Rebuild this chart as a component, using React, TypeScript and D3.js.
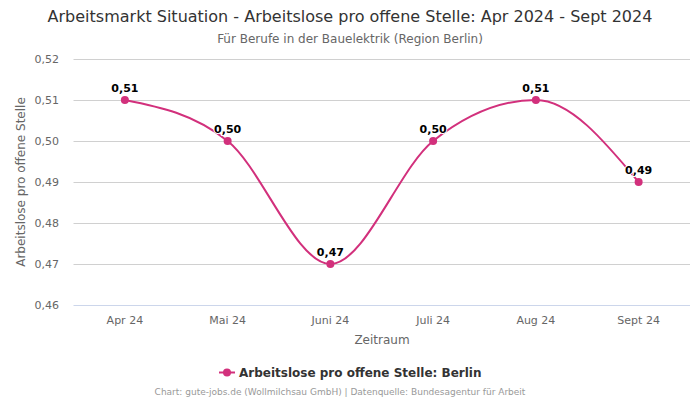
import React from "react";
import * as d3 from "d3";

const categories = ["Apr 24", "Mai 24", "Juni 24", "Juli 24", "Aug 24", "Sept 24"];
const values = [0.51, 0.5, 0.47, 0.5, 0.51, 0.49];
const yTicks = [0.46, 0.47, 0.48, 0.49, 0.5, 0.51, 0.52];

const W = 700, H = 400;
const plotLeft = 73.5, plotRight = 690, plotTop = 59, plotBottom = 305;
const color = "#d2307c";
const font = "'DejaVu Sans', sans-serif";
const fmt = (v: number) => v.toFixed(2).replace(".", ",");

export default function App() {
  const x = d3.scaleBand<string>().domain(categories).range([plotLeft, plotRight]);
  const y = d3.scaleLinear().domain([0.46, 0.52]).range([plotBottom, plotTop]);
  const cx = (c: string) => (x(c) as number) + x.bandwidth() / 2;
  const pts: [number, number][] = categories.map((c, i) => [cx(c), y(values[i])]);
  const path = d3.line().curve(d3.curveMonotoneX)(pts) || "";

  return (
    <svg width={W} height={H} style={{ position: "absolute", left: 0, top: 0, fontFamily: font }}>
      <rect width={W} height={H} fill="#fff" />
      <text x={350} y={22} textAnchor="middle" fontSize={16} fill="#333">
        Arbeitsmarkt Situation - Arbeitslose pro offene Stelle: Apr 2024 - Sept 2024
      </text>
      <text x={350} y={43} textAnchor="middle" fontSize={12} fill="#666">
        Für Berufe in der Bauelektrik (Region Berlin)
      </text>
      {yTicks.map((t) => (
        <g key={t}>
          <line x1={plotLeft} x2={plotRight} y1={Math.round(y(t)) + 0.5} y2={Math.round(y(t)) + 0.5} stroke={t === 0.46 ? "#ccd6eb" : "#d0d0d0"} />
          <text x={59} y={y(t) + 4} textAnchor="end" fontSize={11} fill="#666">{fmt(t)}</text>
        </g>
      ))}
      {categories.map((c) => (
        <text key={c} x={cx(c)} y={324} textAnchor="middle" fontSize={11} fill="#666">{c}</text>
      ))}
      <text x={382} y={344} textAnchor="middle" fontSize={12} fill="#666">Zeitraum</text>
      <text transform={`translate(25,${(plotTop + plotBottom) / 2}) rotate(-90)`} textAnchor="middle" fontSize={12} fill="#666">
        Arbeitslose pro offene Stelle
      </text>
      <path d={path} fill="none" stroke={color} strokeWidth={2} />
      {pts.map(([px, py], i) => (
        <g key={i}>
          <circle cx={px} cy={py} r={4} fill={color} />
          <text x={px} y={py - 8} textAnchor="middle" fontSize={11} fontWeight="bold" fill="#000" stroke="#fff" strokeWidth={2} paintOrder="stroke">
            {fmt(values[i])}
          </text>
        </g>
      ))}
      <g>
        <line x1={219} x2={235} y1={372.5} y2={372.5} stroke={color} strokeWidth={2} />
        <circle cx={227} cy={372.5} r={4} fill={color} />
        <text x={239} y={377} fontSize={12} fontWeight="bold" fill="#333">Arbeitslose pro offene Stelle: Berlin</text>
      </g>
      <text x={340} y={395} textAnchor="middle" fontSize={9} fill="#999">
        Chart: gute-jobs.de (Wollmilchsau GmbH) | Datenquelle: Bundesagentur für Arbeit
      </text>
    </svg>
  );
}
